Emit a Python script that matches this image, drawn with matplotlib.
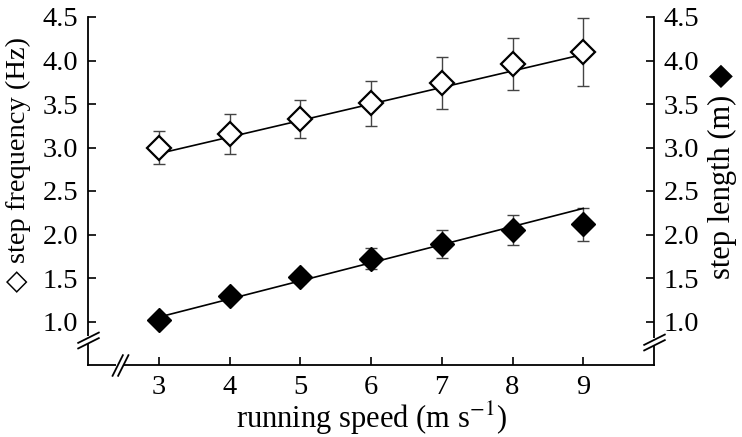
import numpy as np
import matplotlib
matplotlib.use("Agg")
import matplotlib.pyplot as plt
from matplotlib.path import Path

# data
speed = [3, 4, 5, 6, 7, 8, 9]
freq = [3.00, 3.16, 3.33, 3.51, 3.74, 3.96, 4.10]
freq_err = [0.19, 0.23, 0.22, 0.26, 0.30, 0.30, 0.39]
length = [1.02, 1.29, 1.51, 1.72, 1.89, 2.05, 2.12]
length_err = [0.03, 0.05, 0.07, 0.12, 0.16, 0.17, 0.19]
freq_fit = [2.93, 4.07]   # line at x=3 and x=9
length_fit = [1.05, 2.30]
fit_x = [3, 9]
yticks = [1.0, 1.5, 2.0, 2.5, 3.0, 3.5, 4.0, 4.5]

plt.rcParams['font.family'] = ['Liberation Serif', 'DejaVu Sans']
plt.rcParams['mathtext.fontset'] = 'stix'
fs = 20.5

fig = plt.figure(figsize=(7.42, 4.37), dpi=100)
ax = fig.add_axes([88/742, 1-365/437, (654-88)/742, (365-17)/437])

ax.plot(fit_x, freq_fit, color='black', lw=1.2, zorder=3)
ax.plot(fit_x, length_fit, color='black', lw=1.2, zorder=3)
ax.errorbar(speed, freq, yerr=freq_err, fmt='none', ecolor='#444444',
            elinewidth=1.0, capsize=4, capthick=1.0, zorder=2)
ax.errorbar(speed, length, yerr=length_err, fmt='none', ecolor='#444444',
            elinewidth=1.0, capsize=4, capthick=1.0, zorder=2)
ax.plot(speed, freq, 'D', ms=12, mfc='white', mec='black', mew=1.6, ls='none', zorder=4)
ax.plot(speed, length, 'D', ms=12, mfc='black', mec='black', mew=1.0, ls='none', zorder=4)

ax.set_xlim(2, 10)
ax.set_ylim(0.5, 4.5)
ax.set_xticks(speed)
ax.set_yticks(yticks)
ax.set_yticklabels([f"{t:.1f}" for t in yticks])
ax.spines['top'].set_visible(False)
for s in ['left', 'bottom', 'right']:
    ax.spines[s].set_linewidth(1.3)
ax.tick_params(direction='in', length=6, width=1.2, labelsize=fs, pad=7)
ax.tick_params(axis='y', right=True, labelright=True)
ax.set_xlabel("running speed (m s$^{-1}$)", fontsize=22, labelpad=0)

fig.text(18/742, 1-165/437, "\u25C7 step frequency (Hz)", rotation=90,
         fontsize=fs, ha='center', va='center')
fig.text(722/742, 1-171/437, "step length (m) \u25C6", rotation=90,
         fontsize=22, ha='center', va='center')

# axis breaks
slash = Path([(-1, -0.75), (1, 0.25), (-1, -0.25), (1, 0.75)],
             [Path.MOVETO, Path.LINETO, Path.MOVETO, Path.LINETO])
slash_x = Path([(-0.75, -1), (0.25, 1), (-0.25, -1), (0.75, 1)],
               [Path.MOVETO, Path.LINETO, Path.MOVETO, Path.LINETO])
for xb, yb in [(2, 0.79), (10, 0.77)]:
    ax.plot([xb, xb], [yb - 0.04, yb + 0.04], color='white', lw=4,
            clip_on=False, zorder=5, solid_capstyle='butt')
    ax.plot([xb], [yb], marker=slash, ms=16, mfc='none', mec='black',
            mew=1.3, clip_on=False, zorder=6)
ax.plot([2.39, 2.51], [0.5, 0.5], color='white', lw=4, clip_on=False,
        zorder=5, solid_capstyle='butt')
ax.plot([2.45], [0.5], marker=slash_x, ms=16, mfc='none', mec='black',
        mew=1.3, clip_on=False, zorder=6)

fig.savefig("out.png", dpi=100)
